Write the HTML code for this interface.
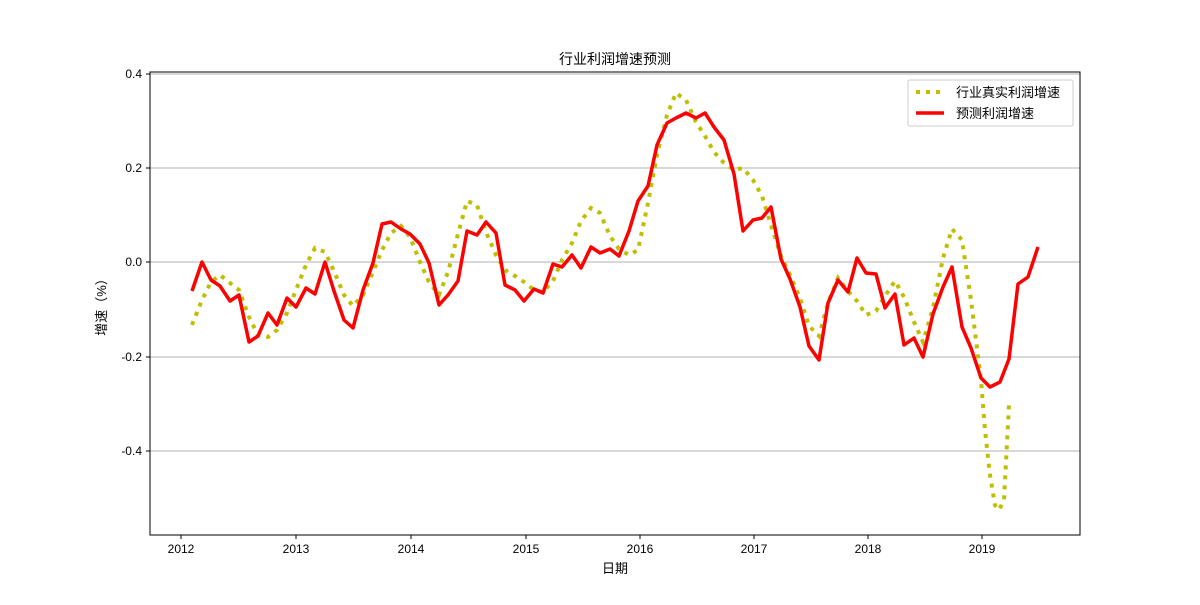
<!DOCTYPE html>
<html><head><meta charset="utf-8"><style>
body{margin:0;background:#fff}
text{font-family:"Liberation Sans","Noto Sans CJK SC",sans-serif;fill:#000}
</style></head><body>
<svg width="1200" height="600" xmlns="http://www.w3.org/2000/svg">
<rect width="1200" height="600" fill="#fff"/>
<g stroke="#b0b0b0" stroke-width="1">
<line x1="150" y1="74" x2="1080" y2="74"/><line x1="150" y1="168" x2="1080" y2="168"/><line x1="150" y1="262" x2="1080" y2="262"/><line x1="150" y1="357" x2="1080" y2="357"/><line x1="150" y1="451" x2="1080" y2="451"/>
</g>
<polyline fill="none" stroke="#bfbf00" stroke-width="4" stroke-dasharray="4,6" points="192,325 202,300 211,282 220,275 230,283 239,290 249,317 258,335 268,337 277,330 287,313 296,290 306,265 315,248 325,252 334,271 344,295 353,306 363,295 373,272 382,250 391,233 401,226 410,237 420,262 429,282 439,295 448,272 458,234 467,201 477,205 486,232 496,255 505,270 515,276 524,282 534,290 543,292 553,281 562,260 572,243 581,221 591,208 600,213 610,236 619,249 629,255 638,250 648,203 657,155 667,115 676,93 686,100 696,122 705,136 714,152 724,163 734,170 743,168 753,180 762,196 771,225 781,256 790,275 800,298 809,326 819,336 828,303 838,278 848,291 857,301 866,315 876,311 885,296 895,281 904,297 914,322 923,342 933,308 943,258 952,229 962,240 971,300 981,380 985,430 990,475 995,505 999,510 1004,500 1009,405"/>
<polyline fill="none" stroke="#ff0000" stroke-width="3.5" stroke-linejoin="round" points="192,291 202,262 211,280 220,286 230,301 239,295 249,342 258,336 268,313 277,325 287,298 296,307 306,288 315,294 325,262 334,291 344,320 353,328 363,290 373,263 382,224 391,222 401,229 410,234 420,244 429,263 439,305 448,295 458,281 467,231 477,235 486,222 496,233 505,285 515,290 524,301 534,289 543,293 553,264 562,267 572,255 581,268 591,247 600,253 610,249 619,256 629,231 638,201 648,186 657,145 667,123 676,118 686,113 696,118 705,113 714,127 724,140 734,174 743,231 753,220 762,218 771,207 781,259 790,279 800,307 809,346 819,360 828,303 838,280 848,292 857,258 866,273 876,274 885,308 895,294 904,345 914,338 923,357 933,314 943,287 952,267 962,327 971,348 981,378 990,387 1000,382 1009,359 1018,284 1028,277 1038,247"/>
<rect x="150" y="72" width="930" height="463" fill="none" stroke="#000" stroke-width="1"/>
<g stroke="#000" stroke-width="1">
<line x1="146" y1="74" x2="150" y2="74"/><line x1="146" y1="168" x2="150" y2="168"/><line x1="146" y1="262" x2="150" y2="262"/><line x1="146" y1="357" x2="150" y2="357"/><line x1="146" y1="451" x2="150" y2="451"/>
<line x1="181" y1="535" x2="181" y2="539"/><line x1="296" y1="535" x2="296" y2="539"/><line x1="411" y1="535" x2="411" y2="539"/><line x1="526" y1="535" x2="526" y2="539"/><line x1="640" y1="535" x2="640" y2="539"/><line x1="754" y1="535" x2="754" y2="539"/><line x1="868" y1="535" x2="868" y2="539"/><line x1="982" y1="535" x2="982" y2="539"/>
</g>
<g font-size="12" text-anchor="end">
<text x="142" y="78">0.4</text><text x="142" y="172">0.2</text><text x="142" y="266">0.0</text><text x="142" y="361">-0.2</text><text x="142" y="455">-0.4</text>
</g>
<g font-size="12" text-anchor="middle">
<text x="181" y="553">2012</text><text x="296" y="553">2013</text><text x="411" y="553">2014</text><text x="526" y="553">2015</text><text x="640" y="553">2016</text><text x="754" y="553">2017</text><text x="868" y="553">2018</text><text x="982" y="553">2019</text>
</g>
<text x="615" y="573" font-size="13" text-anchor="middle">日期</text>
<text x="106" y="304" font-size="13" text-anchor="middle" transform="rotate(-90 106 304)">增速（%）</text>
<text x="615" y="64" font-size="14" text-anchor="middle">行业利润增速预测</text>
<rect x="908" y="80" width="165" height="46" fill="#fff" stroke="#ccc" rx="2"/>
<line x1="916" y1="92" x2="944" y2="92" stroke="#bfbf00" stroke-width="4" stroke-dasharray="4,6"/>
<line x1="916" y1="113" x2="944" y2="113" stroke="#ff0000" stroke-width="3.5"/>
<text x="956" y="97" font-size="13">行业真实利润增速</text>
<text x="956" y="118" font-size="13">预测利润增速</text>
</svg>
</body></html>
